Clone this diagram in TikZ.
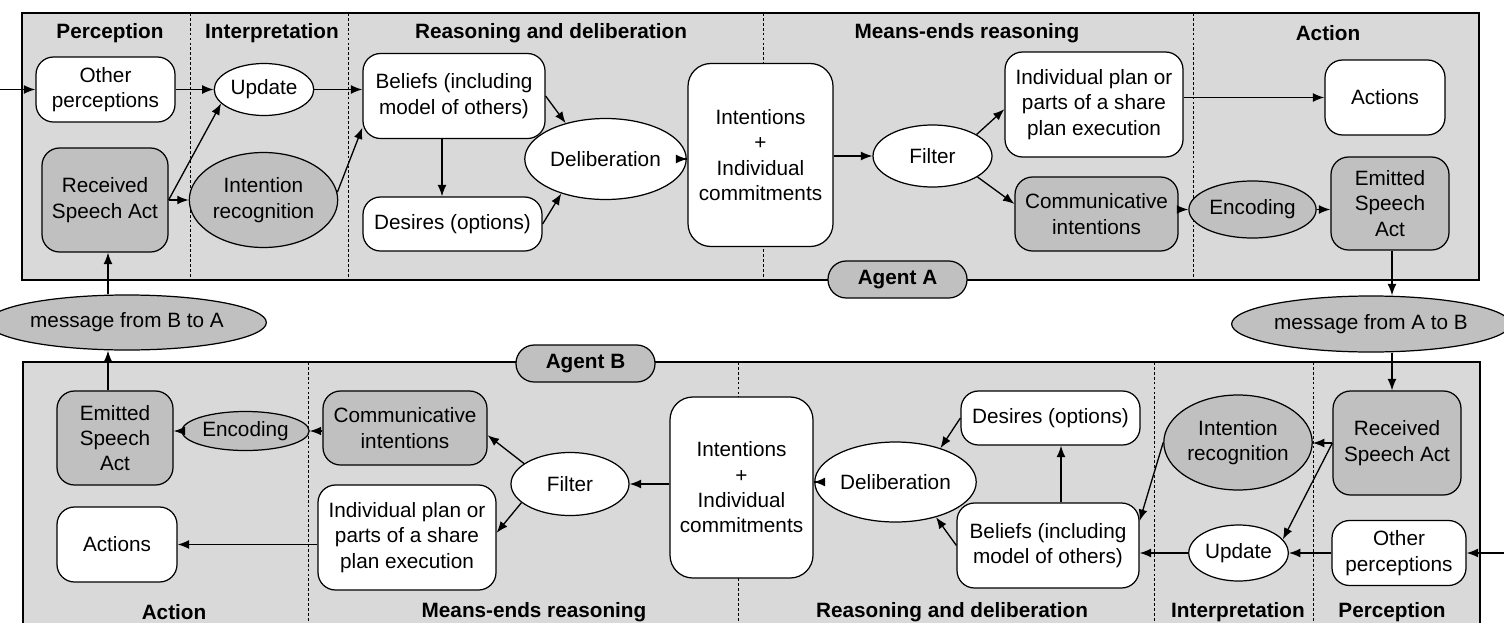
\documentclass[tikz,border=0pt]{standalone}
\usepackage{fontspec}
\setmainfont{Liberation Sans}
\usetikzlibrary{shapes.geometric,arrows.meta}

% one drawing unit = one pixel of the layout grid
\newlength\pxu
\setlength\pxu{0.02cm}

\definecolor{panelgray}{RGB}{217,217,217}
\definecolor{actgray}{RGB}{192,192,192}

\tikzset{
  base/.style={draw=black, line width=0.7pt, align=center, inner sep=1pt,
    font=\fontsize{11.8}{14.4}\selectfont},
  rbox/.style={base, rounded corners=10pt, fill=white},
  gbox/.style={rbox, fill=actgray},
  wellipse/.style={base, ellipse, fill=white},
  gellipse/.style={base, ellipse, fill=actgray},
  panel/.style={draw=black, line width=0.7pt, fill=panelgray},
  divider/.style={line width=0.55pt, dash pattern=on 1.6pt off 1.2pt},
  phase/.style={font=\fontsize{11.8}{14}\selectfont\bfseries, inner sep=0pt},
  agentlabel/.style={draw=black, line width=0.7pt, fill=actgray, rounded corners=10.4pt,
    minimum width=139\pxu, minimum height=37\pxu, inner sep=0pt,
    font=\fontsize{11.8}{14}\selectfont\bfseries},
  flow/.style={line width=0.75pt, -{Latex[length=6.5pt,width=5pt]}},
}

\begin{document}
\begin{tikzpicture}[x=0.02cm, y=-0.02cm]
\clip (0,0) rectangle (1504,622);
\useasboundingbox (0,0) rectangle (1504,622);

% ---------------- panels ----------------
\draw[panel] (22,13) rectangle (1479,280);
\draw[panel] (23,362) rectangle (1480,660);

% phase dividers
\foreach \x in {190,348,763,1193} \draw[divider] (\x,13) -- (\x,280);
\foreach \x in {308,738,1154,1313} \draw[divider] (\x,362) -- (\x,660);

% phase titles, agent A
\node[phase] (tA1) at (110,33) {Perception};
\node[phase] (tA2) at (272,33) {Interpretation};
\node[phase] (tA3) at (551,33) {Reasoning and deliberation};
\node[phase] (tA4) at (967,33) {Means-ends reasoning};
\node[phase] (tA5) at (1328,33) {Action};

% phase titles, agent B
\node[phase] (tB1) at (174,612) {Action};
\node[phase] (tB2) at (534,612) {Means-ends reasoning};
\node[phase] (tB3) at (952,612) {Reasoning and deliberation};
\node[phase] (tB4) at (1238,612) {Interpretation};
\node[phase] (tB5) at (1392,612) {Perception};

% ---------------- agent A ----------------
\node[rbox, minimum width=139\pxu, minimum height=65\pxu] (othA) at (105.5,89.5) {Other\\perceptions};
\node[gbox, minimum width=126\pxu, minimum height=104\pxu] (rsaA) at (105,200) {Received\\Speech Act};
\node[wellipse, minimum width=94\pxu, minimum height=52\pxu] (updA) at (264,89.5) {Update};
\node[gellipse, minimum width=139\pxu, minimum height=95\pxu] (irA) at (263.5,200) {Intention\\recognition};
\node[rbox, minimum width=182\pxu, minimum height=85\pxu] (belA) at (454,96) {Beliefs (including\\model of others)};
\node[rbox, minimum width=179\pxu, minimum height=54\pxu] (desA) at (452.5,224) {Desires (options)};
\node[wellipse, minimum width=125\pxu, minimum height=81\pxu] (delA) at (605.5,159) {Deliberation};
\node[rbox, rounded corners=13pt, minimum width=145\pxu, minimum height=183\pxu] (intA) at (760.5,155) {Intentions\\+\\Individual\\commitments};
\node[wellipse, minimum width=119\pxu, minimum height=62\pxu] (filA) at (932.5,156) {Filter};
\node[rbox, minimum width=178\pxu, minimum height=105\pxu] (ipA) at (1094,104.5) {Individual plan or\\parts of a share\\plan execution};
\node[gbox, minimum width=163\pxu, minimum height=74\pxu] (ciA) at (1096.5,214) {Communicative\\intentions};
\node[rbox, minimum width=120\pxu, minimum height=75\pxu] (actA) at (1385,97.5) {Actions};
\node[gellipse, minimum width=99\pxu, minimum height=57\pxu] (encA) at (1252.5,209.5) {Encoding};
\node[gbox, minimum width=118\pxu, minimum height=93\pxu] (emA) at (1390,203.5) {Emitted\\Speech\\Act};

% ---------------- messages ----------------
\node[gellipse, minimum width=240\pxu, minimum height=55\pxu] (msgBA) at (127,322.5) {message from B to A};
\node[gellipse, minimum width=250\pxu, minimum height=56\pxu] (msgAB) at (1371,324) {message from A to B};

% ---------------- agent B ----------------
\node[gbox, minimum width=128\pxu, minimum height=104\pxu] (rsaB) at (1397,443) {Received\\Speech Act};
\node[rbox, minimum width=134\pxu, minimum height=65\pxu] (othB) at (1399,553) {Other\\perceptions};
\node[gellipse, minimum width=138\pxu, minimum height=95\pxu] (irB) at (1238,442.5) {Intention\\recognition};
\node[wellipse, minimum width=95\pxu, minimum height=56\pxu] (updB) at (1238.5,553) {Update};
\node[rbox, minimum width=182\pxu, minimum height=85\pxu] (belB) at (1048,545.5) {Beliefs (including\\model of others)};
\node[rbox, minimum width=179\pxu, minimum height=54\pxu] (desB) at (1050.5,418) {Desires (options)};
\node[wellipse, minimum width=125\pxu, minimum height=80\pxu] (delB) at (895.5,482) {Deliberation};
\node[rbox, rounded corners=13pt, minimum width=143\pxu, minimum height=181\pxu] (intB) at (741.5,487.5) {Intentions\\+\\Individual\\commitments};
\node[wellipse, minimum width=118\pxu, minimum height=63\pxu] (filB) at (570,484) {Filter};
\node[gbox, minimum width=164\pxu, minimum height=74\pxu] (ciB) at (405,428) {Communicative\\intentions};
\node[rbox, minimum width=178\pxu, minimum height=105\pxu] (ipB) at (407,537.5) {Individual plan or\\parts of a share\\plan execution};
\node[gellipse, minimum width=105\pxu, minimum height=39\pxu] (encB) at (245.5,431) {Encoding};
\node[gbox, minimum width=116\pxu, minimum height=94\pxu] (emB) at (115,438) {Emitted\\Speech\\Act};
\node[rbox, minimum width=120\pxu, minimum height=75\pxu] (actB) at (117,544.5) {Actions};

% outside inputs
\coordinate (inA) at (0,89.5);
\coordinate (inB) at (1504,553);

% ---------------- flows, agent A ----------------
\draw[flow] (inA) -- (othA.west);
\draw[flow] (othA.east) -- (othA.east -| updA.west);
\draw[flow] (rsaA.east) -- (updA.198);
\draw[flow] (rsaA.east) -- (rsaA.east -| irA.west);
\draw[flow] (updA.east) -- (updA.east -| belA.west);
\draw[flow] (irA.6) -- (belA.199);
\draw[flow] ([xshift=-12\pxu]belA.south) -- ([xshift=-12\pxu]belA.south |- desA.north);
\draw[flow] (belA.east) -- (delA.138);
\draw[flow] (desA.east) -- (delA.218);
\draw[flow] (delA.east) -- (delA.east -| intA.west);
\draw[flow] (filA.west -| intA.east) -- (filA.west);
\draw[flow] (filA.26) -- (ipA.183);
\draw[flow] (filA.335) -- (ciA.173);
\draw[flow] (actA.west -| ipA.east) -- (actA.west);
\draw[flow] (encA.west -| ciA.east) -- (encA.west);
\draw[flow] (encA.east) -- (encA.east -| emA.west);
\draw[flow] ([xshift=2\pxu]emA.south) -- ([xshift=2\pxu]emA.south |- msgAB.north);

% ---------------- flows between and in agent B ----------------
\draw[flow] ([xshift=2\pxu]emA.south |- msgAB.south) -- ([xshift=2\pxu]emA.south |- rsaB.north);
\draw[flow] (rsaB.west) -- (rsaB.west -| irB.east);
\draw[flow] (rsaB.west) -- (updB.17);
\draw[flow] (inB) -- (othB.east);
\draw[flow] (othB.west) -- (othB.west -| updB.east);
\draw[flow] (updB.west) -- (updB.west -| belB.east);
\draw[flow] (irB.west) -- (belB.15);
\draw[flow] ([xshift=13\pxu]belB.north) -- ([xshift=13\pxu]belB.north |- desB.south);
\draw[flow] (belB.west) -- (delB.319);
\draw[flow] (desB.west) -- (delB.37);
\draw[flow] (delB.west) -- (delB.west -| intB.east);
\draw[flow] (filB.east -| intB.west) -- (filB.east);
\draw[flow] (filB.156) -- (ciB.355);
\draw[flow] (filB.201) -- (ipB.3);
\draw[flow] (encB.east -| ciB.west) -- (encB.east);
\draw[flow] (encB.west) -- (encB.west -| emB.east);
\draw[flow] (actB.east -| ipB.west) -- (actB.east);
\draw[flow] ([xshift=-7\pxu]emB.north) -- ([xshift=-7\pxu]emB.north |- msgBA.south);
\draw[flow] ([xshift=3\pxu]rsaA.south |- msgBA.north) -- ([xshift=3\pxu]rsaA.south);

% agent tags on the panel borders
\node[agentlabel] (tagA) at (897.5,279.5) {Agent A};
\node[agentlabel] (tagB) at (585.5,363.5) {Agent B};
\end{tikzpicture}
\end{document}
